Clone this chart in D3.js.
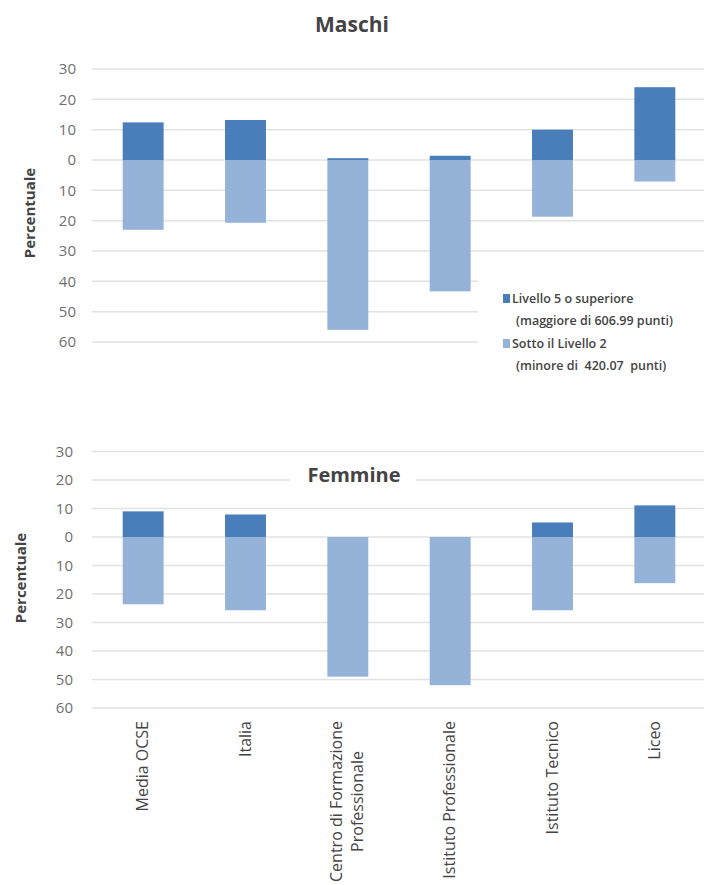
<!DOCTYPE html>
<html>
<head>
<meta charset="utf-8">
<script src="https://cdn.jsdelivr.net/npm/d3@7"></script>
<style>
  html, body { margin: 0; padding: 0; background: #fff; }
  svg { display: block; }
  text { font-family: "Open Sans", Lato, sans-serif; }
</style>
</head>
<body>
<svg id="chart" width="704" height="885"></svg>
<script>
// ---- data ----
const categories = ["Media OCSE", "Italia", "Centro di Formazione\nProfessionale", "Istituto Professionale", "Istituto Tecnico", "Liceo"];
const seriesNames = ["Livello 5 o superiore", "Sotto il Livello 2"];
const seriesNotes = ["(maggiore di 606.99 punti)", "(minore di  420.07  punti)"];
const maschiTop = [12.4, 13.2, 0.6, 1.4, 10.0, 24.0];
const maschiLow = [23.0, 20.7, 56.0, 43.3, 18.7, 7.1];
const femmineTop = [9.0, 7.9, 0.0, 0.0, 5.1, 11.1];
const femmineLow = [23.6, 25.7, 49.0, 52.0, 25.7, 16.2];
const tickValues = [30, 20, 10, 0, -10, -20, -30, -40, -50, -60];

const darkColor = "#4a7ebb";
const lightColor = "#95b3d9";
const gridColor = "#e2e2e2";
const tickColor = "#6f6f6f";
const textColor = "#444444";

const svg = d3.select("#chart");

const x = d3.scaleBand().domain(categories).range([92, 706]).paddingInner(0.6).paddingOuter(0.3);

function panel(cfg) {
  const y = d3.scaleLinear().domain([-60, 30]).range([cfg.bottom, cfg.top]);
  const g = svg.append("g");

  // gridlines
  g.append("g").selectAll("line").data(tickValues).join("line")
    .attr("x1", 92).attr("x2", d => (cfg.shortGrid && d <= -40) ? 478 : 704)
    .attr("y1", d => y(d)).attr("y2", d => y(d))
    .attr("stroke", gridColor).attr("stroke-width", 1.5);

  // axis tick labels
  const axis = d3.axisLeft(y).tickValues(tickValues).tickFormat(d => Math.abs(d)).tickSize(0).tickPadding(0);
  const ax = g.append("g").attr("transform", `translate(${cfg.tickX},0)`).call(axis);
  ax.select(".domain").remove();
  ax.selectAll("text").attr("fill", tickColor).style("font-size", "15px").style("font-family", "'Open Sans', sans-serif");

  // bars
  g.append("g").selectAll("rect.low").data(categories).join("rect")
    .attr("x", d => x(d)).attr("width", x.bandwidth())
    .attr("y", y(0)).attr("height", (d, i) => y(-cfg.low[i]) - y(0))
    .attr("fill", lightColor);
  g.append("g").selectAll("rect.high").data(categories).join("rect")
    .attr("x", d => x(d)).attr("width", x.bandwidth())
    .attr("y", (d, i) => y(cfg.high[i])).attr("height", (d, i) => y(0) - y(cfg.high[i]))
    .attr("fill", darkColor);

  // y title
  g.append("text")
    .attr("transform", `translate(${cfg.ylabX},${cfg.ylabY}) rotate(-90)`)
    .attr("text-anchor", "middle").attr("fill", textColor)
    .style("font-size", "15px").style("font-weight", "bold")
    .text("Percentuale");
  return y;
}

// ---- Maschi ----
panel({ top: 69, bottom: 342, high: maschiTop, low: maschiLow, tickX: 76, ylabX: 35, ylabY: 213, shortGrid: true });
svg.append("text").attr("x", 352).attr("y", 32).attr("text-anchor", "middle")
  .attr("fill", textColor).style("font-size", "21px").style("font-weight", "bold").text("Maschi");

// legend
const leg = svg.append("g");
[0, 1].forEach(i => {
  const by = 303 + i * 45;
  leg.append("rect").attr("x", 503).attr("y", by - 9).attr("width", 7).attr("height", 9)
    .attr("fill", i === 0 ? darkColor : lightColor);
  leg.append("text").attr("x", 512).attr("y", by).attr("fill", textColor)
    .style("font-size", "12.5px").style("font-weight", 600).text(seriesNames[i]);
  leg.append("text").attr("x", 516).attr("y", by + 22).attr("fill", textColor)
    .style("font-size", "12.5px").style("font-weight", 600).style("white-space", "pre")
    .attr("xml:space", "preserve").text(seriesNotes[i]);
});

// ---- Femmine ----
panel({ top: 451.5, bottom: 708, high: femmineTop, low: femmineLow, tickX: 73, ylabX: 26, ylabY: 578, shortGrid: false });
svg.append("rect").attr("x", 290).attr("y", 462).attr("width", 126).attr("height", 24).attr("fill", "#fff");
svg.append("text").attr("x", 354).attr("y", 482).attr("text-anchor", "middle")
  .attr("fill", textColor).style("font-size", "20px").style("font-weight", "bold").text("Femmine");

// x labels
const xl = svg.append("g");
categories.forEach(c => {
  const lines = c.split("\n");
  const cx = x(c) + x.bandwidth() / 2;
  const grp = xl.append("g");
  const texts = lines.map(ln => grp.append("text")
    .attr("fill", textColor).style("font-size", "16px").text(ln));
  const L = d3.max(texts, t => t.node().getComputedTextLength());
  const top = 721;
  const lh = 21;
  texts.forEach((t, j) => {
    const dx = cx + 5 + (j - (lines.length - 1) / 2) * lh;
    t.attr("text-anchor", "middle")
     .attr("transform", `translate(${dx},${top + L / 2}) rotate(-90)`);
  });
});
</script>
</body>
</html>
